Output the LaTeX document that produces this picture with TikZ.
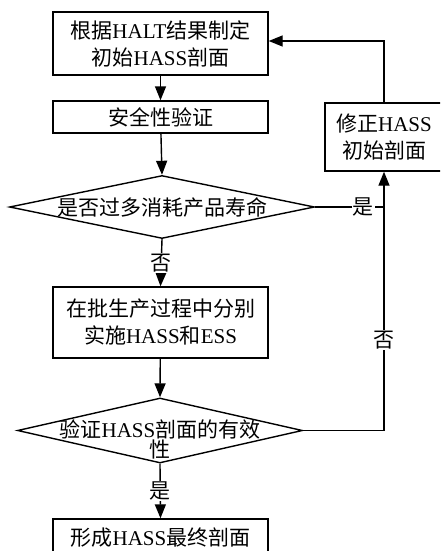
\documentclass[tikz,border=0pt]{standalone}
\usepackage{fontspec}
\setmainfont{Liberation Serif}
\newfontfamily\cjk{Noto Sans CJK SC}
\newcommand\zh[1]{{\cjk #1}}
\usetikzlibrary{arrows.meta,shapes.geometric}
\begin{document}
\begin{tikzpicture}[x=1pt,y=-1pt,
  line width=1.4pt,
  every node/.style={font=\fontsize{21}{27}\selectfont},
  box/.style={draw,rectangle,inner sep=0pt,align=center,minimum width=215pt},
  dia/.style={draw,diamond,inner sep=0pt},
  lab/.style={fill=white,inner sep=1pt},
  arr/.style={-{Triangle[width=11pt,length=14pt]}}]
\useasboundingbox (0,0) rectangle (440,551);
\clip (0,0) rectangle (440,551);
\node[box,minimum height=63pt] (b1) at (160.5,43.5) {\zh{根据}HALT\zh{结果制定}\\\zh{初始}HASS\zh{剖面}};
\node[box,minimum height=32pt] (b2) at (160.5,117) {\zh{安全性验证}};
\node[dia,minimum width=305pt,minimum height=63pt] (d1) at (162,207) {};
\node (t1) at (d1.center) {\zh{是否过多消耗产品寿命}};
\node[box,minimum height=71pt] (b3) at (160.5,322.5) {\zh{在批生产过程中分别}\\\zh{实施}HASS\zh{和}ESS};
\node[dia,minimum width=285pt,minimum height=65pt] (d2) at (160,430.5) {};
\node[align=center,font=\fontsize{21}{20}\selectfont] (t2) at ([yshift=-9pt]d2.center) {\zh{验证}HASS\zh{剖面的有效}\\\zh{性}};
\node[box,minimum height=38pt] (b4) at (160.5,538) {\zh{形成}HASS\zh{最终剖面}};
\node[draw,rectangle,inner sep=0pt,align=center,minimum width=118pt,minimum height=68pt] (r) at (384,137) {\zh{修正}HASS\\\zh{初始剖面}};
\coordinate (c1) at (384,41);
\coordinate (c2) at (384,207);
\coordinate (c3) at (384,430.5);
\draw[arr] (b1) -- (b2);
\draw[arr] (b2) -- (d1.north);
\draw[arr] (d1.south) -- node[lab] {\zh{否}} (b3.north);
\draw[arr] (b3) -- (d2.north);
\draw[arr] (d2.south) -- node[lab,pos=0.5] {\zh{是}} (b4.north);
\draw[arr] (r.north) -- (c1) -- (b1.east |- c1);
\draw (d1.east) -- node[lab,pos=0.7] {\zh{是}} (c2);
\draw[arr] (d2.east) -- (c3) -- node[lab,pos=0.35] {\zh{否}} (r.south);
\end{tikzpicture}
\end{document}
